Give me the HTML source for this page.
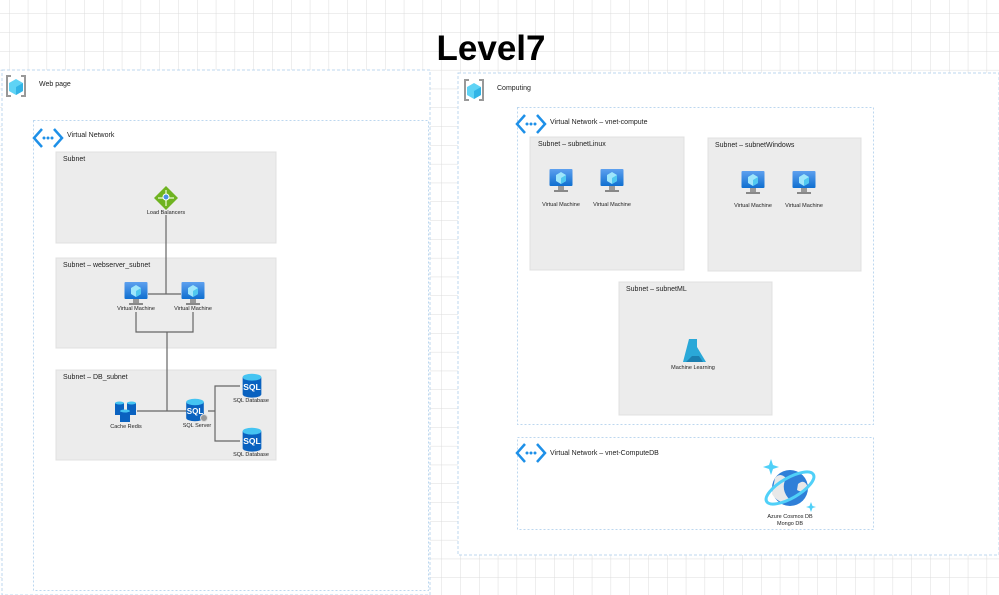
<!DOCTYPE html>
<html><head><meta charset="utf-8"><style>
html,body{margin:0;padding:0;background:#fff}
svg{display:block}
text{font-family:"Liberation Sans",sans-serif;fill:#222}
</style></head><body>
<svg width="999" height="595" viewBox="0 0 999 595" xmlns="http://www.w3.org/2000/svg">
<defs>
<pattern id="grid" x="9" y="13.5" width="18.8" height="18.8" patternUnits="userSpaceOnUse">
<path d="M0 0H18.8M0 0V18.8" stroke="#dcdcdc" stroke-width="1" fill="none"/>
</pattern>
<linearGradient id="vmg" x1="0" y1="0" x2="0" y2="1"><stop offset="0" stop-color="#5ea0ef"/><stop offset="1" stop-color="#0f6fd0"/></linearGradient>
<g id="vm">
<rect x="-11.5" y="0" width="23" height="17" rx="1" fill="url(#vmg)"/>
<rect x="-3" y="17" width="6" height="4" fill="#999"/>
<rect x="-7" y="21" width="14" height="2" fill="#888"/>
<path d="M0 3 L5 6 L5 12 L0 15 L-5 12 L-5 6Z" fill="#9ee6fb"/>
<path d="M0 9 L5 6 L5 12 L0 15Z" fill="#50c8f0"/>
</g>
<g id="vnet">
<path d="M-6 -9 L-14 0 L-6 9" stroke="#1e90e8" stroke-width="2.5" fill="none"/>
<path d="M6 -9 L14 0 L6 9" stroke="#1e90e8" stroke-width="2.5" fill="none"/>
<circle cx="-4" cy="0" r="1.5" fill="#1e90e8"/><circle cx="0" cy="0" r="1.5" fill="#1e90e8"/><circle cx="4" cy="0" r="1.5" fill="#1e90e8"/>
</g>
<g id="rg">
<path d="M-5 -10 H-9 V10 H-5 M5 -10 H9 V10 H5" stroke="#999" stroke-width="2" fill="none"/>
<path d="M0 -7 L7 -3 L7 5 L0 9 L-7 5 L-7 -3Z" fill="#5fd3f5"/>
<path d="M0 1 L7 -3 L7 5 L0 9Z" fill="#32b4e6"/>
</g>
<g id="sqldb">
<path d="M-11 -8 V12 A11 4 0 0 0 11 12 V-8Z" fill="#0a62c0"/>
<ellipse cx="0" cy="-8" rx="11" ry="4" fill="#45c4f2"/>
<text x="0" y="7" text-anchor="middle" font-size="10" font-weight="bold" style="fill:#fff">SQL</text>
</g>
</defs>
<rect width="999" height="595" fill="url(#grid)"/>
<text x="491" y="60" text-anchor="middle" font-size="35" font-weight="bold" style="fill:#000">Level7</text>

<!-- Left group -->
<rect x="2" y="70" width="428" height="525" fill="#fff" stroke="#bcd7ef" stroke-dasharray="3,2"/>
<use href="#rg" x="16" y="86"/>
<text x="39" y="86" font-size="7">Web page</text>
<rect x="33.5" y="120.5" width="395" height="470" fill="#fff" stroke="#bcd7ef" stroke-dasharray="2,2"/>
<use href="#vnet" x="48" y="138"/>
<text x="67" y="137" font-size="7">Virtual Network</text>

<rect x="56" y="152" width="220" height="91" fill="#ececec" stroke="#e0e0e0"/>
<text x="63" y="161" font-size="7">Subnet</text>
<rect x="56" y="258" width="220" height="90" fill="#ececec" stroke="#e0e0e0"/>
<text x="63" y="267" font-size="7">Subnet – webserver_subnet</text>
<rect x="56" y="370" width="220" height="90" fill="#ececec" stroke="#e0e0e0"/>
<text x="63" y="379" font-size="7">Subnet – DB_subnet</text>

<g stroke="#666" stroke-width="1.2" fill="none">
<path d="M166 215 V294 M148 294 H181"/>
<path d="M136 312 V332 H193 V312 M167 332 V411 M137 411 H187"/>
<path d="M208 411 H215 M240 386 H215 V441 H240"/>
</g>
<!-- LB -->
<path d="M166 186 L178 198 L166 210 L154 198Z" fill="#6fb321"/>
<path d="M166 190 V206 M158 198 H174" stroke="#d7f0b5" stroke-width="1.5"/>
<circle cx="166" cy="197" r="3" fill="#4a90e8" stroke="#fff"/>
<text x="166" y="214" text-anchor="middle" font-size="5.5">Load Balancers</text>
<use href="#vm" x="136" y="282"/>
<use href="#vm" x="193" y="282"/>
<text x="136" y="310" text-anchor="middle" font-size="5.5">Virtual Machine</text>
<text x="193" y="310" text-anchor="middle" font-size="5.5">Virtual Machine</text>
<!-- redis -->
<g fill="#0a62c0">
<rect x="115" y="403" width="9" height="12"/><rect x="127" y="403" width="9" height="12"/><rect x="120" y="411" width="10" height="11"/>
</g>
<ellipse cx="119.5" cy="403" rx="4.5" ry="1.5" fill="#45c4f2"/><ellipse cx="131.5" cy="403" rx="4.5" ry="1.5" fill="#45c4f2"/><ellipse cx="125" cy="411" rx="5" ry="1.5" fill="#45c4f2"/>
<text x="126" y="428" text-anchor="middle" font-size="5.5">Cache Redis</text>
<g transform="translate(195,410) scale(0.8)"><use href="#sqldb" x="0" y="-2"/></g>
<circle cx="204" cy="418" r="3.5" fill="#999" stroke="#ddd"/>
<text x="197" y="427" text-anchor="middle" font-size="5.5">SQL Server</text>
<g transform="translate(252,384) scale(0.85)"><use href="#sqldb" x="0" y="0"/></g>
<text x="251" y="402" text-anchor="middle" font-size="5.5">SQL Database</text>
<g transform="translate(252,438) scale(0.85)"><use href="#sqldb" x="0" y="0"/></g>
<text x="251" y="456" text-anchor="middle" font-size="5.5">SQL Database</text>

<!-- Right group -->
<rect x="458" y="73" width="541" height="482" fill="#fff" stroke="#bcd7ef" stroke-dasharray="3,2"/>
<use href="#rg" x="474" y="90"/>
<text x="497" y="90" font-size="7">Computing</text>
<rect x="517.5" y="107.5" width="356" height="317" fill="#fff" stroke="#bcd7ef" stroke-dasharray="2,2"/>
<use href="#vnet" x="531" y="124"/>
<text x="550" y="124" font-size="7">Virtual Network – vnet-compute</text>
<rect x="530" y="137" width="154" height="133" fill="#ececec" stroke="#e0e0e0"/>
<text x="538" y="146" font-size="7">Subnet – subnetLinux</text>
<rect x="708" y="138" width="153" height="133" fill="#ececec" stroke="#e0e0e0"/>
<text x="715" y="147" font-size="7">Subnet – subnetWindows</text>
<rect x="619" y="282" width="153" height="133" fill="#ececec" stroke="#e0e0e0"/>
<text x="626" y="291" font-size="7">Subnet – subnetML</text>
<use href="#vm" x="561" y="169"/><use href="#vm" x="612" y="169"/>
<text x="561" y="206" text-anchor="middle" font-size="5.5">Virtual Machine</text>
<text x="612" y="206" text-anchor="middle" font-size="5.5">Virtual Machine</text>
<use href="#vm" x="753" y="171"/><use href="#vm" x="804" y="171"/>
<text x="753" y="207" text-anchor="middle" font-size="5.5">Virtual Machine</text>
<text x="804" y="207" text-anchor="middle" font-size="5.5">Virtual Machine</text>
<!-- ML -->
<path d="M689 339 H697 V347 L706 362 H683 Z" fill="#2aa8d8"/>
<path d="M692 356 L699 356 L703 362 H686Z" fill="#1b7fb0"/>
<text x="693" y="369" text-anchor="middle" font-size="5.5">Machine Learning</text>

<rect x="517.5" y="437.5" width="356" height="92" fill="#fff" stroke="#bcd7ef" stroke-dasharray="2,2"/>
<use href="#vnet" x="531" y="453"/>
<text x="550" y="455" font-size="7">Virtual Network – vnet-ComputeDB</text>
<!-- cosmos -->
<circle cx="790" cy="488" r="18" fill="#2f7fd8"/>
<path d="M775 478 Q780 472 786 478 Q780 490 790 500 Q780 506 772 494Z" fill="#e8e8e8"/>
<path d="M798 484 Q805 478 808 488 Q803 494 797 490Z" fill="#e8e8e8"/>
<ellipse cx="790" cy="488" rx="27" ry="10" transform="rotate(-30 790 488)" fill="none" stroke="#50d0f8" stroke-width="3"/>
<path d="M771 459 L773 465 L779 467 L773 469 L771 475 L769 469 L763 467 L769 465Z" fill="#50d0f8"/>
<path d="M811 502 L812.5 506 L816 507 L812.5 508 L811 512 L809.5 508 L806 507 L809.5 506Z" fill="#50d0f8"/>
<text x="790" y="518" text-anchor="middle" font-size="5.5">Azure Cosmos DB</text>
<text x="790" y="525" text-anchor="middle" font-size="5.5">Mongo DB</text>
</svg>
</body></html>
